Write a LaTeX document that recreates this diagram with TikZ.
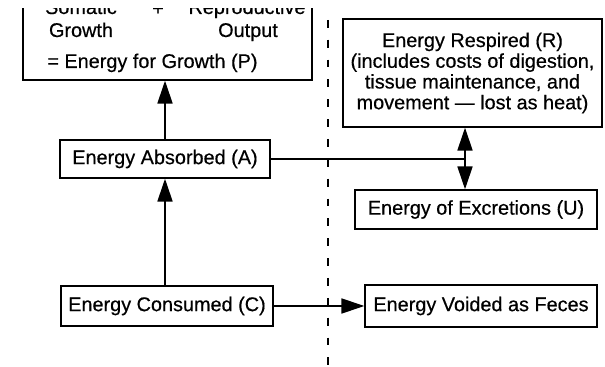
\documentclass[tikz,border=0pt]{standalone}
\usepackage{fontspec}
\setmainfont{Liberation Sans}[BoldFont=Liberation Sans,BoldFeatures={FakeBold=0.5}]
\usetikzlibrary{arrows.meta,positioning,calc}

\begin{document}
\begin{tikzpicture}[x=0.02cm,y=-0.02cm,
  font={\fontsize{11.3pt}{11.8pt}\selectfont\bfseries},
  box/.style={draw,line width=0.8pt,inner sep=2pt,align=center},
  label/.style={anchor=base,inner sep=0pt},
  arrow/.style={-{Triangle[length=13pt,width=8.5pt]},line width=1.1pt},
  divider/.style={line width=1.1pt,dash pattern=on 4.5pt off 6.8pt}
]
\useasboundingbox (0,0) rectangle (605,367);
\clip (0,9) rectangle (605,367);
% production box, cut at the top
\node[box,minimum width=5.78cm,minimum height=1.8cm] (prod) at (167.5,35) {};
\node[label] (somatic) at (81,14) {Somatic};
\node[label] (plus) at (158,15) {+};
\node[label] (repro) at (247,14) {Reproductive};
\node[label] (growth) at (81,37) {Growth};
\node[label] (output) at (248,37) {Output};
\node[label,anchor=base west] (pline) at (47,68) {= Energy for Growth (P)};
\node[box,minimum width=4.2cm,minimum height=0.76cm] (absorbed) at (165,159) {Energy Absorbed (A)};
\node[box,minimum width=4.24cm,minimum height=0.8cm] (consumed) at (167,306) {Energy Consumed (C)};
\node[box,minimum width=5.18cm,minimum height=2.16cm] (respired) at (472.5,73) {Energy Respired (R)\\(includes costs of digestion,\\tissue maintenance, and\\movement — lost as heat)};
\node[box,minimum width=4.84cm,minimum height=0.78cm] (excretions) at (476,209.5) {Energy of Excretions (U)};
\node[box,minimum width=4.64cm,minimum height=0.84cm] (feces) at (481,306) {Energy Voided as Feces};
\coordinate (split) at (465,159);
\coordinate (divtop) at (328,0);
\coordinate (divbot) at (328,367);
\draw[divider] (divtop) -- (divbot);
\draw[arrow] (absorbed.south |- consumed.north) -- (absorbed.south);
\draw[arrow] (absorbed.north) -- (absorbed.north |- prod.south);
\draw[line width=1.1pt] (absorbed.east) -- (split);
\draw[arrow] (split) -- (split |- respired.south);
\draw[arrow] (split) -- (split |- excretions.north);
\draw[arrow] (consumed.east) -- (consumed.east -| feces.west);
\end{tikzpicture}
\end{document}
